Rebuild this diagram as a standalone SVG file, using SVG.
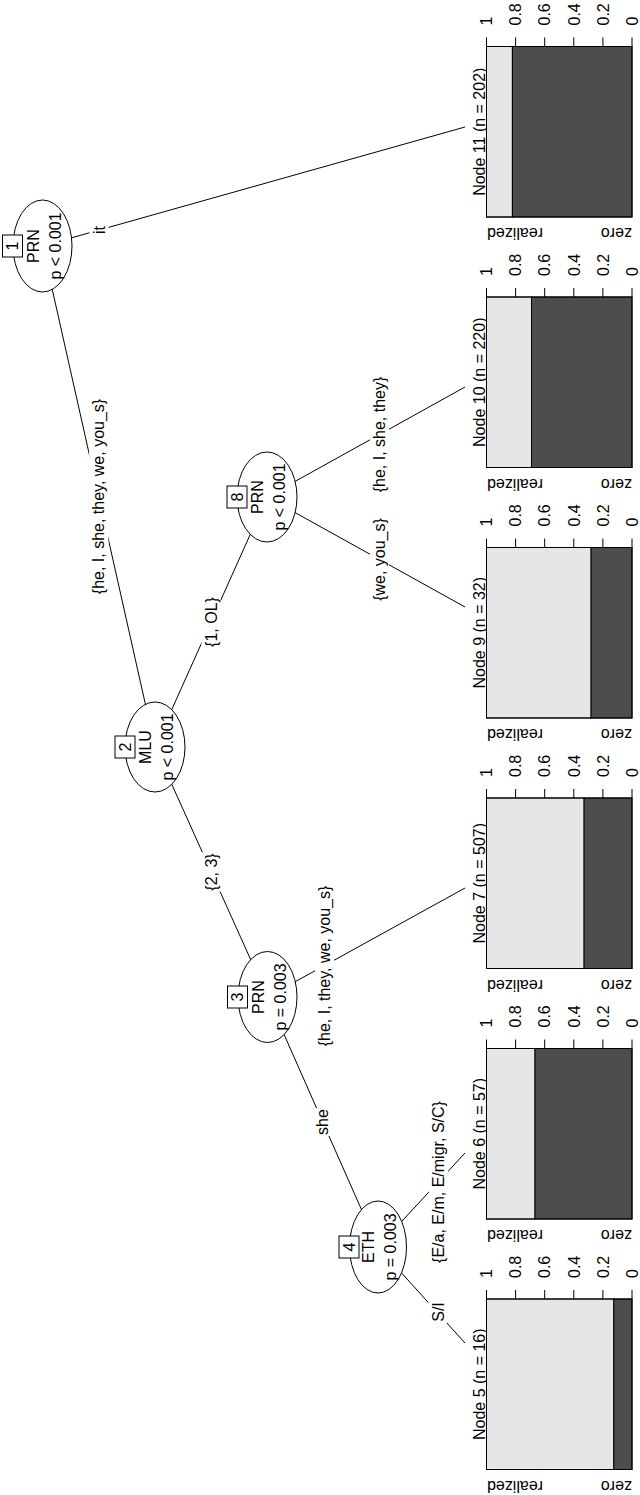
<svg xmlns="http://www.w3.org/2000/svg" width="640" height="1495" viewBox="0 0 640 1495">
<style>
text { font-family: "Liberation Sans", Arial, Helvetica, sans-serif; font-size: 16px; fill: #000; }
.edge { stroke: #000; stroke-width: 1; fill: none; }
.lblbg { fill: #fff; stroke: none; }
.ell { fill: #fff; stroke: #000; stroke-width: 1; }
.idbox { fill: #fff; stroke: #000; stroke-width: 1; }
.light { fill: #e6e6e6; stroke: #000; stroke-width: 1; }
.dark { fill: #4d4d4d; stroke: #000; stroke-width: 1; }
.frame { fill: none; stroke: #000; stroke-width: 1; }
.tick { stroke: #000; stroke-width: 1; fill: none; }
.m { text-anchor: middle; }
.s { text-anchor: start; }
.e { text-anchor: end; }
</style>
<rect x="0" y="0" width="640" height="1495" fill="#fff"/>

<g id="connectors">
  <line class="edge" x1="42.5" y1="246" x2="155" y2="747"/>
  <line class="edge" x1="42.5" y1="246" x2="465" y2="127"/>
  <line class="edge" x1="155" y1="747" x2="267" y2="497"/>
  <line class="edge" x1="155" y1="747" x2="267.5" y2="997"/>
  <line class="edge" x1="267" y1="497" x2="465" y2="387"/>
  <line class="edge" x1="267" y1="497" x2="465" y2="607"/>
  <line class="edge" x1="267.5" y1="997" x2="465" y2="888"/>
  <line class="edge" x1="267.5" y1="997" x2="378" y2="1247"/>
  <line class="edge" x1="378" y1="1247" x2="465" y2="1153"/>
  <line class="edge" x1="378" y1="1247" x2="465" y2="1343"/>

  <rect class="lblbg" x="89.4" y="225" width="19.2" height="10"/>
  <text class="m" transform="translate(104.5,230) rotate(-90)">it</text>

  <rect class="lblbg" x="89.15" y="397.2" width="19.2" height="198.6"/>
  <text class="m" transform="translate(104.25,496.5) rotate(-90)">{he, I, she, they, we, you_s}</text>

  <rect class="lblbg" x="201.4" y="596.1" width="19.2" height="51.8"/>
  <text class="m" transform="translate(216.5,622) rotate(-90)">{1, OL}</text>

  <rect class="lblbg" x="201.65" y="852.3" width="19.2" height="39.4"/>
  <text class="m" transform="translate(216.75,872) rotate(-90)">{2, 3}</text>

  <rect class="lblbg" x="369.9" y="375.7" width="19.2" height="117.6"/>
  <text class="m" transform="translate(385,434.5) rotate(-90)">{he, I, she, they}</text>

  <rect class="lblbg" x="369.9" y="517.15" width="19.2" height="84.7"/>
  <text class="m" transform="translate(385,559.5) rotate(-90)">{we, you_s}</text>

  <rect class="lblbg" x="314.9" y="884.05" width="19.2" height="163.9"/>
  <text class="m" transform="translate(330,966) rotate(-90)">{he, I, they, we, you_s}</text>

  <rect class="lblbg" x="313.15" y="1108.1" width="19.2" height="27.8"/>
  <text class="m" transform="translate(328.25,1122) rotate(-90)">she</text>

  <rect class="lblbg" x="428.9" y="1099.65" width="19.2" height="164.7"/>
  <text class="m" transform="translate(444,1182) rotate(-90)">{E/a, E/m, E/migr, S/C}</text>

  <rect class="lblbg" x="428.4" y="1301.2" width="19.2" height="21.6"/>
  <text class="m" transform="translate(443.5,1312) rotate(-90)">S/I</text>
</g>

<g id="node1">
  <ellipse class="ell" cx="42.5" cy="246" rx="29.5" ry="46"/>
  <rect class="idbox" x="2.5" y="235" width="20" height="22"/>
  <text class="m" transform="translate(18.2,246) rotate(-90)">1</text>
  <text class="m" transform="translate(38.5,246) rotate(-90)">PRN</text>
  <text class="m" transform="translate(60.5,246) rotate(-90)">p &lt; 0.001</text>
</g>

<g id="node2">
  <ellipse class="ell" cx="155" cy="747" rx="30" ry="45"/>
  <rect class="idbox" x="115" y="736" width="20" height="22"/>
  <text class="m" transform="translate(130.7,747) rotate(-90)">2</text>
  <text class="m" transform="translate(151,747) rotate(-90)">MLU</text>
  <text class="m" transform="translate(173,747) rotate(-90)">p &lt; 0.001</text>
</g>

<g id="node8">
  <ellipse class="ell" cx="267" cy="497" rx="30" ry="45"/>
  <rect class="idbox" x="227" y="486" width="20" height="22"/>
  <text class="m" transform="translate(242.7,497) rotate(-90)">8</text>
  <text class="m" transform="translate(263,497) rotate(-90)">PRN</text>
  <text class="m" transform="translate(285,497) rotate(-90)">p &lt; 0.001</text>
</g>

<g id="node3">
  <ellipse class="ell" cx="267.5" cy="997" rx="29.5" ry="45.5"/>
  <rect class="idbox" x="227.5" y="986" width="20" height="22"/>
  <text class="m" transform="translate(243.2,997) rotate(-90)">3</text>
  <text class="m" transform="translate(263.5,997) rotate(-90)">PRN</text>
  <text class="m" transform="translate(285.5,997) rotate(-90)">p = 0.003</text>
</g>

<g id="node4">
  <ellipse class="ell" cx="378" cy="1247" rx="28.5" ry="46"/>
  <rect class="idbox" x="339" y="1236" width="20" height="22"/>
  <text class="m" transform="translate(354.7,1247) rotate(-90)">4</text>
  <text class="m" transform="translate(374,1247) rotate(-90)">ETH</text>
  <text class="m" transform="translate(396,1247) rotate(-90)">p = 0.003</text>
</g>

<g id="node11">
  <text class="m" transform="translate(485,131.75) rotate(-90)">Node 11 (n = 202)</text>
  <rect class="light" x="486.5" y="46.5" width="25.9" height="170.5"/>
  <rect class="dark" x="512.4" y="46.5" width="119.6" height="170.5"/>
  <rect class="frame" x="486.5" y="46.5" width="145.5" height="170.5"/>
  <path class="tick" d="M486.5,46.5v-9M515.6,46.5v-9M544.7,46.5v-9M573.8,46.5v-9M602.9,46.5v-9M632,46.5v-9"/>
  <text class="s" transform="translate(492.2,25.5) rotate(-90)">1</text>
  <text class="s" transform="translate(521.3,25.5) rotate(-90)">0.8</text>
  <text class="s" transform="translate(550.4,25.5) rotate(-90)">0.6</text>
  <text class="s" transform="translate(579.5,25.5) rotate(-90)">0.4</text>
  <text class="s" transform="translate(608.6,25.5) rotate(-90)">0.2</text>
  <text class="s" transform="translate(637.7,25.5) rotate(-90)">0</text>
  <text class="e" transform="translate(487,228) rotate(180)">realized</text>
  <text class="s" transform="translate(632,228) rotate(180)">zero</text>
</g>

<g id="node10">
  <text class="m" transform="translate(485,382.25) rotate(-90)">Node 10 (n = 220)</text>
  <rect class="light" x="486.5" y="297" width="45" height="170.5"/>
  <rect class="dark" x="531.5" y="297" width="100.5" height="170.5"/>
  <rect class="frame" x="486.5" y="297" width="145.5" height="170.5"/>
  <path class="tick" d="M486.5,297v-9M515.6,297v-9M544.7,297v-9M573.8,297v-9M602.9,297v-9M632,297v-9"/>
  <text class="s" transform="translate(492.2,276) rotate(-90)">1</text>
  <text class="s" transform="translate(521.3,276) rotate(-90)">0.8</text>
  <text class="s" transform="translate(550.4,276) rotate(-90)">0.6</text>
  <text class="s" transform="translate(579.5,276) rotate(-90)">0.4</text>
  <text class="s" transform="translate(608.6,276) rotate(-90)">0.2</text>
  <text class="s" transform="translate(637.7,276) rotate(-90)">0</text>
  <text class="e" transform="translate(487,478.5) rotate(180)">realized</text>
  <text class="s" transform="translate(632,478.5) rotate(180)">zero</text>
</g>

<g id="node9">
  <text class="m" transform="translate(485,632.75) rotate(-90)">Node 9 (n = 32)</text>
  <rect class="light" x="486.5" y="547.5" width="104.6" height="170.5"/>
  <rect class="dark" x="591.1" y="547.5" width="40.9" height="170.5"/>
  <rect class="frame" x="486.5" y="547.5" width="145.5" height="170.5"/>
  <path class="tick" d="M486.5,547.5v-9M515.6,547.5v-9M544.7,547.5v-9M573.8,547.5v-9M602.9,547.5v-9M632,547.5v-9"/>
  <text class="s" transform="translate(492.2,526.5) rotate(-90)">1</text>
  <text class="s" transform="translate(521.3,526.5) rotate(-90)">0.8</text>
  <text class="s" transform="translate(550.4,526.5) rotate(-90)">0.6</text>
  <text class="s" transform="translate(579.5,526.5) rotate(-90)">0.4</text>
  <text class="s" transform="translate(608.6,526.5) rotate(-90)">0.2</text>
  <text class="s" transform="translate(637.7,526.5) rotate(-90)">0</text>
  <text class="e" transform="translate(487,729) rotate(180)">realized</text>
  <text class="s" transform="translate(632,729) rotate(180)">zero</text>
</g>

<g id="node7">
  <text class="m" transform="translate(485,883.25) rotate(-90)">Node 7 (n = 507)</text>
  <rect class="light" x="486.5" y="798" width="97.6" height="170.5"/>
  <rect class="dark" x="584.1" y="798" width="47.9" height="170.5"/>
  <rect class="frame" x="486.5" y="798" width="145.5" height="170.5"/>
  <path class="tick" d="M486.5,798v-9M515.6,798v-9M544.7,798v-9M573.8,798v-9M602.9,798v-9M632,798v-9"/>
  <text class="s" transform="translate(492.2,777) rotate(-90)">1</text>
  <text class="s" transform="translate(521.3,777) rotate(-90)">0.8</text>
  <text class="s" transform="translate(550.4,777) rotate(-90)">0.6</text>
  <text class="s" transform="translate(579.5,777) rotate(-90)">0.4</text>
  <text class="s" transform="translate(608.6,777) rotate(-90)">0.2</text>
  <text class="s" transform="translate(637.7,777) rotate(-90)">0</text>
  <text class="e" transform="translate(487,979.5) rotate(180)">realized</text>
  <text class="s" transform="translate(632,979.5) rotate(180)">zero</text>
</g>

<g id="node6">
  <text class="m" transform="translate(485,1133.75) rotate(-90)">Node 6 (n = 57)</text>
  <rect class="light" x="486.5" y="1048.5" width="48.5" height="170.5"/>
  <rect class="dark" x="535" y="1048.5" width="97" height="170.5"/>
  <rect class="frame" x="486.5" y="1048.5" width="145.5" height="170.5"/>
  <path class="tick" d="M486.5,1048.5v-9M515.6,1048.5v-9M544.7,1048.5v-9M573.8,1048.5v-9M602.9,1048.5v-9M632,1048.5v-9"/>
  <text class="s" transform="translate(492.2,1027.5) rotate(-90)">1</text>
  <text class="s" transform="translate(521.3,1027.5) rotate(-90)">0.8</text>
  <text class="s" transform="translate(550.4,1027.5) rotate(-90)">0.6</text>
  <text class="s" transform="translate(579.5,1027.5) rotate(-90)">0.4</text>
  <text class="s" transform="translate(608.6,1027.5) rotate(-90)">0.2</text>
  <text class="s" transform="translate(637.7,1027.5) rotate(-90)">0</text>
  <text class="e" transform="translate(487,1230) rotate(180)">realized</text>
  <text class="s" transform="translate(632,1230) rotate(180)">zero</text>
</g>

<g id="node5">
  <text class="m" transform="translate(485,1384.25) rotate(-90)">Node 5 (n = 16)</text>
  <rect class="light" x="486.5" y="1299" width="127.3" height="170.5"/>
  <rect class="dark" x="613.8" y="1299" width="18.2" height="170.5"/>
  <rect class="frame" x="486.5" y="1299" width="145.5" height="170.5"/>
  <path class="tick" d="M486.5,1299v-9M515.6,1299v-9M544.7,1299v-9M573.8,1299v-9M602.9,1299v-9M632,1299v-9"/>
  <text class="s" transform="translate(492.2,1278) rotate(-90)">1</text>
  <text class="s" transform="translate(521.3,1278) rotate(-90)">0.8</text>
  <text class="s" transform="translate(550.4,1278) rotate(-90)">0.6</text>
  <text class="s" transform="translate(579.5,1278) rotate(-90)">0.4</text>
  <text class="s" transform="translate(608.6,1278) rotate(-90)">0.2</text>
  <text class="s" transform="translate(637.7,1278) rotate(-90)">0</text>
  <text class="e" transform="translate(487,1480.5) rotate(180)">realized</text>
  <text class="s" transform="translate(632,1480.5) rotate(180)">zero</text>
</g>
</svg>
